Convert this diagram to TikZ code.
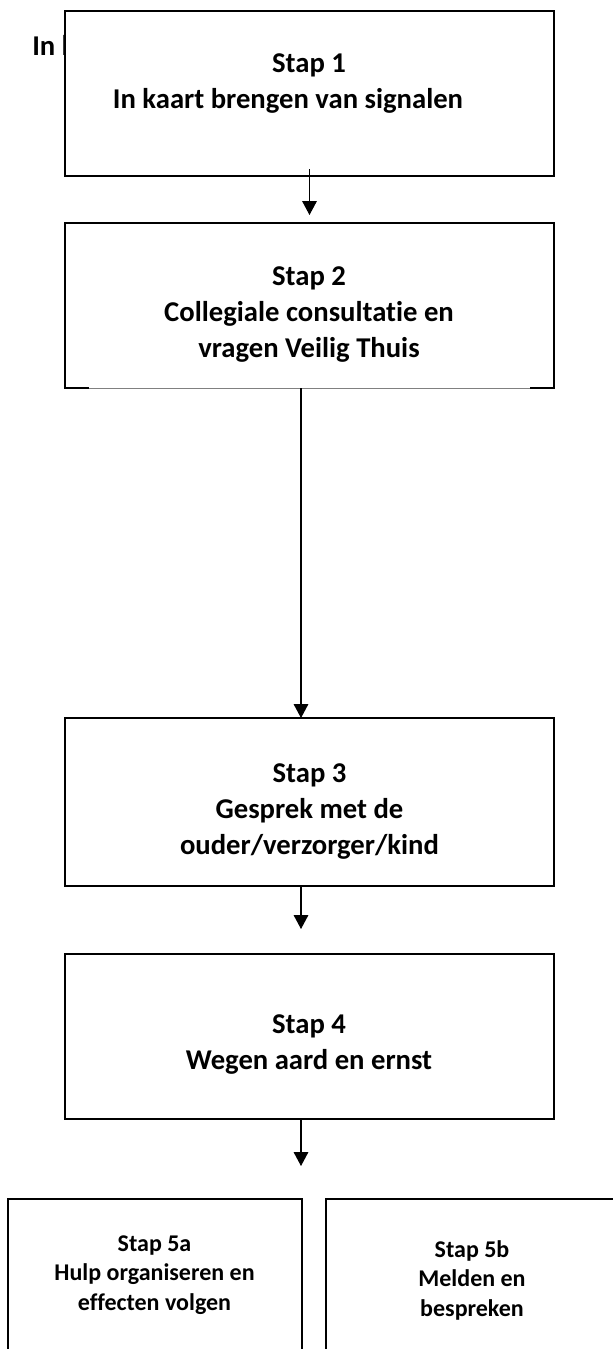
\documentclass[tikz,border=0pt]{standalone}
\usepackage{fontspec}
\setmainfont{Carlito}[Ligatures=NoCommon]
\usetikzlibrary{arrows.meta,calc}

\tikzset{
  stepbox/.style={draw, line width=1.5pt, fill=white, rectangle, inner sep=0pt, outer sep=0pt},
  steptext/.style={anchor=north, align=center, inner sep=0pt, font=\bfseries\fontsize{21.5}{27}\selectfont},
  subtext/.style={anchor=north, align=center, inner sep=0pt, font=\bfseries\fontsize{18}{22}\selectfont},
  flow/.style={line width=0.8pt, -{Triangle[width=11pt,length=10.5pt]}},
}

\begin{document}
\begin{tikzpicture}[x=0.75pt, y=-0.75pt]
		%%%%% START %%%%%
		\useasboundingbox (0,0) rectangle (613,1349);
		\clip (0,0) rectangle (613,1349);
		
		\node[anchor=base west, inner sep=0pt, font=\bfseries\fontsize{21.5}{27}\selectfont] (kop) at (32,55) {In k};
		
		\node[stepbox, minimum width=366.75pt, minimum height=123.75pt] (s1) at (309.5,93.5) {};
		\node[steptext] (t1) at (309,53) {Stap 1\\In kaart brengen van signalen\hspace*{31.5pt}};
		
		\node[stepbox, draw=none, minimum width=366.75pt, minimum height=123.75pt] (s2) at (309.5,305.5) {};
		\draw[line width=1.5pt] ([xshift=18pt]s2.south west) -- (s2.south west) |- (s2.north east) |- ([xshift=-18pt]s2.south east);
		\draw[line width=0.5pt, black!50] ([xshift=18pt]s2.south west) -- ([xshift=-18pt]s2.south east);
		\node[steptext] (t2) at (309,266) {Stap 2\\Collegiale consultatie en\\vragen Veilig Thuis};
		
		\node[stepbox, minimum width=366.75pt, minimum height=126pt] (s3) at (309.5,802) {};
		\node[steptext] (t3) at (309.5,763) {Stap 3\\Gesprek met de\\ouder/verzorger/kind};
		
		\node[stepbox, minimum width=366.75pt, minimum height=123.75pt] (s4) at (309.5,1036.5) {};
		\node[steptext] (t4) at (309,1014) {Stap 4\\Wegen aard en ernst};
		
		\node[stepbox, minimum width=220.5pt, minimum height=165.75pt] (s5a) at (155,1309.5) {};
		\node[subtext] (t5a) at (154.5,1235.5) {Stap 5a\\Hulp organiseren en\\effecten volgen};
		
		\node[stepbox, minimum width=220.5pt, minimum height=165.75pt] (s5b) at (473,1309.5) {};
		\node[subtext] (t5b) at (472,1240.5) {Stap 5b\\Melden en\\bespreken};
		
		\draw[flow] ($(s1.south)+(0,-7)$) -- ($(s2.north)+(0,-8)$);
		\draw[flow] ($(s2.south)+(-8.5,0)$) -- ($(s3.north)+(-8.5,0)$);
		\draw[flow] ($(s3.south)+(-8.5,0)$) -- ($(s4.north)+(-8.5,-25)$);
		\draw[flow] ($(s4.south)+(-8.5,0)$) -- ($(s4.south)+(-8.5,47)$);
		
		%%%%% END %%%%%
\end{tikzpicture}
\end{document}
